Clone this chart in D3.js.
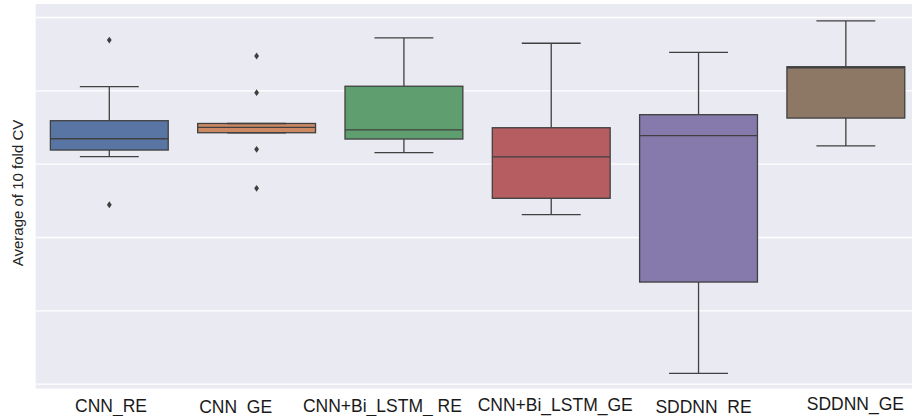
<!DOCTYPE html>
<html>
<head>
<meta charset="utf-8">
<script src="https://cdn.jsdelivr.net/npm/d3@7"></script>
<style>
  html, body { margin: 0; padding: 0; background: #ffffff; }
  svg { display: block; font-family: "Liberation Sans", Arial, sans-serif; }
</style>
</head>
<body>
<svg id="chart" width="912" height="416"></svg>
<script>
// Models compared by 10-fold cross validation
const categories = ["CNN_RE", "CNN_GE", "CNN+Bi_LSTM_ RE", "CNN+Bi_LSTM_GE", "SDDNN_RE", "SDDNN_GE"];

// Five-number summaries per model (whisker ends, quartiles, median)
const whiskerLow  = [0.8548, 0.8711, 0.8575, 0.8152, 0.7071, 0.8621];
const q1          = [0.8593, 0.8711, 0.8668, 0.8264, 0.7693, 0.8811];
const median      = [0.8670, 0.8748, 0.8730, 0.8546, 0.8691, 0.9154];
const q3          = [0.8793, 0.8774, 0.9028, 0.8745, 0.8834, 0.9161];
const whiskerHigh = [0.9025, 0.8774, 0.9357, 0.9321, 0.9259, 0.9473];

// Points beyond the whiskers
const outliers = [
  [0.9343, 0.8220],
  [0.9234, 0.8984, 0.8598, 0.8332],
  [], [], [], []
];

// Gridline values on the y axis
const yTicks = [0.70, 0.75, 0.80, 0.85, 0.90, 0.95];

const yLabel = "Average of 10 fold CV";

// Seaborn "deep" palette, desaturated as boxplot draws it
const colors = ["#5875a4", "#cc8963", "#5f9e6e", "#b55d60", "#857aab", "#8d7866"];

// Hand-placed nudges for the category labels (dx, baseline y)
const labelNudge = [[1.7, 411.5], [-21, 412.8], [-21.5, 411.5], [4, 410.5], [5, 412.5], [9.5, 409.5]];

const svg = d3.select("#chart");
const plotTop = 4, plotBottom = 388.5, plotLeft = 35.65, plotRight = 919.5;

const x = d3.scaleBand().domain(categories).range([plotLeft, plotRight]).padding(0);
const y = d3.scaleLinear().domain([0.69673, 0.95886]).range([plotBottom, plotTop]);

// Axes background
svg.append("rect")
  .attr("x", plotLeft).attr("y", plotTop)
  .attr("width", plotRight - plotLeft).attr("height", plotBottom - plotTop)
  .attr("fill", "#eaeaf2");

// White gridlines
const yAxis = d3.axisLeft(y).tickValues(yTicks).tickSize(-(plotRight - plotLeft)).tickFormat("");
const gy = svg.append("g").attr("transform", `translate(${plotLeft},0)`).call(yAxis);
gy.select(".domain").remove();
gy.selectAll(".tick line").attr("stroke", "#ffffff").attr("stroke-width", 1.3);

const lineColor = "#404040";
const lw = 1.3;
const boxW = x.bandwidth() * 0.8;
const capW = boxW / 2;

const data = categories.map((c, i) => ({
  c, i,
  lo: whiskerLow[i], q1: q1[i], med: median[i], q3: q3[i], hi: whiskerHigh[i],
  out: outliers[i]
}));

const g = svg.append("g");
const boxes = g.selectAll("g.box").data(data).join("g").attr("class", "box");

// Whiskers
boxes.append("line")
  .attr("x1", d => x(d.c) + x.bandwidth() / 2).attr("x2", d => x(d.c) + x.bandwidth() / 2)
  .attr("y1", d => y(d.q3)).attr("y2", d => y(d.hi))
  .attr("stroke", lineColor).attr("stroke-width", lw);
boxes.append("line")
  .attr("x1", d => x(d.c) + x.bandwidth() / 2).attr("x2", d => x(d.c) + x.bandwidth() / 2)
  .attr("y1", d => y(d.q1)).attr("y2", d => y(d.lo))
  .attr("stroke", lineColor).attr("stroke-width", lw);

// Boxes
boxes.append("rect")
  .attr("x", d => x(d.c) + (x.bandwidth() - boxW) / 2)
  .attr("width", boxW)
  .attr("y", d => y(d.q3))
  .attr("height", d => Math.max(0, y(d.q1) - y(d.q3)))
  .attr("fill", d => colors[d.i])
  .attr("stroke", lineColor).attr("stroke-width", lw);

// Caps
boxes.selectAll("line.cap").data(d => [{d, v: d.hi}, {d, v: d.lo}]).join("line")
  .attr("class", "cap")
  .attr("x1", e => x(e.d.c) + x.bandwidth() / 2 - capW / 2)
  .attr("x2", e => x(e.d.c) + x.bandwidth() / 2 + capW / 2)
  .attr("y1", e => y(e.v)).attr("y2", e => y(e.v))
  .attr("stroke", lineColor).attr("stroke-width", lw);

// Median lines
boxes.append("line")
  .attr("x1", d => x(d.c) + (x.bandwidth() - boxW) / 2)
  .attr("x2", d => x(d.c) + (x.bandwidth() + boxW) / 2)
  .attr("y1", d => y(d.med)).attr("y2", d => y(d.med))
  .attr("stroke", lineColor).attr("stroke-width", lw);

// Outlier diamonds
boxes.selectAll("path.flier").data(d => d.out.map(v => ({d, v}))).join("path")
  .attr("class", "flier")
  .attr("d", e => {
    const cx = x(e.d.c) + x.bandwidth() / 2, cy = y(e.v);
    return `M${cx},${cy - 3.4}L${cx + 2.4},${cy}L${cx},${cy + 3.4}L${cx - 2.4},${cy}Z`;
  })
  .attr("fill", "#3f3f3f");

// Category labels
svg.append("g").selectAll("text").data(categories).join("text")
  .attr("x", (c, i) => x(c) + x.bandwidth() / 2 + labelNudge[i][0])
  .attr("y", (c, i) => labelNudge[i][1])
  .attr("text-anchor", "middle")
  .attr("font-size", "17.5px")
  .attr("fill", "#1a1a1a")
  .text(c => c);

// Y axis title
svg.append("text")
  .attr("transform", "translate(23,193) rotate(-90)")
  .attr("text-anchor", "middle")
  .attr("font-size", "15px")
  .attr("fill", "#262626")
  .text(yLabel);
</script>
</body>
</html>
